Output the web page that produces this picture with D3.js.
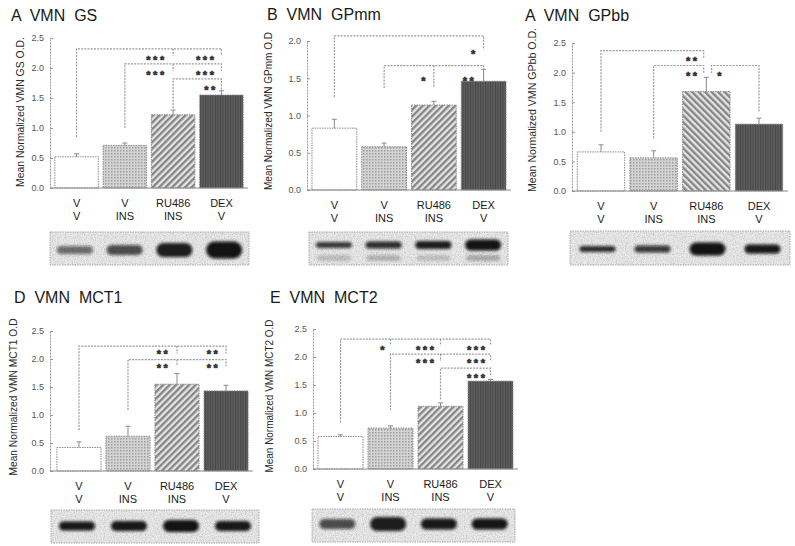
<!DOCTYPE html>
<html><head><meta charset="utf-8">
<script src="https://cdn.jsdelivr.net/npm/d3@7"></script>
<style>
body{margin:0;background:#fff}
svg{display:block}
text{font-family:"Liberation Sans",Arial,sans-serif}
.title{font-size:16px;fill:#1a1a1a;white-space:pre}
.ylab{font-size:10px;fill:#2a2a2a}
.cat{font-size:11px;fill:#1a1a1a}
.star{font-size:11px;font-weight:bold;fill:#333;stroke:#333;stroke-width:0.6px;letter-spacing:2.5px}
.tick text{font-size:9px;fill:#555}
</style>
</head><body><svg id="c" width="795" height="546"></svg>
<script>
// ---------- data ----------
const pretreatment = ["V", "V", "RU486", "DEX"];
const treatment = ["V", "INS", "INS", "V"];
const ticks25 = [0, 0.5, 1, 1.5, 2, 2.5];
const ticks20 = [0, 0.5, 1, 1.5, 2];
const tickLabels25 = ["0.0", "0.5", "1.0", "1.5", "2.0", "2.5"];
const tickLabels20 = ["0.0", "0.5", "1.0", "1.5", "2.0"];

const gsMean = [0.52, 0.71, 1.22, 1.55];
const gsErr = [0.05, 0.04, 0.08, 0.07];
const gpmmMean = [0.83, 0.58, 1.14, 1.46];
const gpmmErr = [0.12, 0.05, 0.05, 0.16];
const gpbbMean = [0.66, 0.56, 1.68, 1.13];
const gpbbErr = [0.12, 0.12, 0.24, 0.10];
const mct1Mean = [0.42, 0.62, 1.55, 1.43];
const mct1Err = [0.10, 0.18, 0.19, 0.10];
const mct2Mean = [0.58, 0.73, 1.12, 1.57];
const mct2Err = [0.03, 0.04, 0.06, 0.03];

// significance brackets (values in data units, positions in category index)
const gsSig = [
  {from: 0, to: 3, top: 2.32, legFrom: 0.85, legTo: 2.2, mids: [[2, 2.2]], stars: [[1.63, "***"], [2.66, "***"]], starAt: 2.17},
  {from: 1, to: 3, top: 2.07, legFrom: 1.0, legTo: 1.95, mids: [[2, 1.95]], stars: [[1.63, "***"], [2.66, "***"]], starAt: 1.93},
  {from: 2, to: 3, top: 1.82, legFrom: 1.33, legTo: 1.64, mids: [], stars: [[2.76, "**"]], starAt: 1.68}
];
const gpmmSig = [
  {from: 0, to: 3, top: 2.07, legFrom: 1.25, legTo: 1.88, mids: [], stars: [[2.79, "*"]], starAt: 1.86},
  {from: 1, to: 3, top: 1.67, legFrom: 1.37, legTo: 1.62, mids: [[2, 1.37]], stars: [[1.79, "*"], [2.69, "**"]], starAt: 1.5}
];
const gpbbSig = [
  {from: 0, to: 1.95, top: 2.37, legFrom: 1.0, legTo: 2.24, mids: [], stars: [[1.72, "**"]], starAt: 2.23},
  {from: 1, to: 1.95, top: 2.12, legFrom: 0.89, legTo: 1.98, mids: [], stars: [[1.72, "**"]], starAt: 1.99},
  {from: 2.1, to: 3, top: 2.12, legFrom: 1.99, legTo: 1.33, mids: [], stars: [[2.25, "*"]], starAt: 1.99}
];
const mct1Sig = [
  {from: 0, to: 3, top: 2.23, legFrom: 0.73, legTo: 2.1, mids: [[2, 2.1]], stars: [[1.70, "**"], [2.72, "**"]], starAt: 2.13},
  {from: 1, to: 3, top: 1.99, legFrom: 1.09, legTo: 1.87, mids: [[2, 1.87]], stars: [[1.70, "**"], [2.72, "**"]], starAt: 1.89}
];
const mct2Sig = [
  {from: 0, to: 3, top: 2.32, legFrom: 0.83, legTo: 2.2, mids: [[1, 2.2], [2, 2.2]], stars: [[0.84, "*"], [1.69, "***"], [2.71, "***"]], starAt: 2.17},
  {from: 1, to: 3, top: 2.05, legFrom: 1.05, legTo: 1.93, mids: [[2, 1.93]], stars: [[1.69, "***"], [2.71, "***"]], starAt: 1.94},
  {from: 2, to: 3, top: 1.80, legFrom: 1.24, legTo: 1.65, mids: [], stars: [[2.71, "***"]], starAt: 1.67}
];

// western blot band intensity (0-1) and thickness (px)
const gsBand = [0.55, 0.7, 0.92, 0.97];
const gsBandH = [8, 10, 14, 17];
const gpmmBand = [0.8, 0.85, 0.92, 0.97];
const gpmmBandH = [6, 7, 8, 11];
const gpmmGhost = [0.22, 0.28, 0.2, 0.32];
const gpbbBand = [0.85, 0.8, 0.97, 0.95];
const gpbbBandH = [6, 7, 13, 9];
const mct1Band = [0.95, 0.95, 0.97, 0.95];
const mct1BandH = [9, 10, 12, 10];
const mct2Band = [0.7, 0.92, 0.94, 0.96];
const mct2BandH = [10, 14, 11, 11];

// ---------- layout ----------
const panels = [
  {title: "A  VMN  GS", ylab: "Mean Normalized VMN GS O.D.", mean: gsMean, err: gsErr, sig: gsSig,
   ticks: ticks25, labels: tickLabels25, max: 2.5, band: gsBand, bandH: gsBandH, ghost: null,
   tx: 11, ty: 21, ax: 50, b0: 50, b1: 248, yT: 38, yB: 188, lx: 20, ly: 112, ll: 150,
   box: [50, 232, 249, 265], bandY: 18, hatch: "hatchR"},
  {title: "B  VMN  GPmm", ylab: "Mean Normalized VMN GPmm O.D", mean: gpmmMean, err: gpmmErr, sig: gpmmSig,
   ticks: ticks20, labels: tickLabels20, max: 2.0, band: gpmmBand, bandH: gpmmBandH, ghost: gpmmGhost,
   tx: 267, ty: 20, ax: 307, b0: 307, b1: 511, yT: 41, yB: 190, lx: 268, ly: 111, ll: 158,
   box: [309, 232, 508, 265], bandY: 13, hatch: "hatchR"},
  {title: "A  VMN  GPbb", ylab: "Mean Normalized VMN GPbb O.D.", mean: gpbbMean, err: gpbbErr, sig: gpbbSig,
   ticks: ticks25, labels: tickLabels25, max: 2.5, band: gpbbBand, bandH: gpbbBandH, ghost: null,
   tx: 525, ty: 21, ax: 572, b0: 572, b1: 788, yT: 43, yB: 191, lx: 532, ly: 110, ll: 164,
   box: [570, 231, 790, 265], bandY: 18, hatch: "hatchL"},
  {title: "D  VMN  MCT1", ylab: "Mean Normalized VMN MCT1 O.D", mean: mct1Mean, err: mct1Err, sig: mct1Sig,
   ticks: ticks25, labels: tickLabels25, max: 2.5, band: mct1Band, bandH: mct1BandH, ghost: null,
   tx: 14, ty: 303, ax: 50, b0: 52, b1: 253, yT: 331, yB: 471, lx: 13, ly: 397, ll: 157,
   box: [51, 510, 259, 543], bandY: 16, hatch: "hatchR"},
  {title: "E  VMN  MCT2", ylab: "Mean Normalized VMN MCT2 O.D", mean: mct2Mean, err: mct2Err, sig: mct2Sig,
   ticks: ticks25, labels: tickLabels25, max: 2.5, band: mct2Band, bandH: mct2BandH, ghost: null,
   tx: 270, ty: 303, ax: 313, b0: 313, b1: 518, yT: 329, yB: 469, lx: 269, ly: 396, ll: 153,
   box: [312, 509, 515, 542], bandY: 15, hatch: "hatchR"}
];

// ---------- defs ----------
const svg = d3.select("#c");
const defs = svg.append("defs");

const pDot = defs.append("pattern").attr("id", "dots").attr("width", 3).attr("height", 3).attr("patternUnits", "userSpaceOnUse");
pDot.append("rect").attr("width", 3).attr("height", 3).attr("fill", "#d4d4d4");
pDot.append("rect").attr("width", 1.5).attr("height", 1.5).attr("fill", "#9c9c9c");

["hatchR", "hatchL"].forEach((id, k) => {
  const p = defs.append("pattern").attr("id", id).attr("width", 4.6).attr("height", 4.6)
    .attr("patternUnits", "userSpaceOnUse").attr("patternTransform", `rotate(${k ? -45 : 45})`);
  p.append("rect").attr("width", 4.6).attr("height", 4.6).attr("fill", "#e4e4e4");
  p.append("rect").attr("width", 2.3).attr("height", 4.6).attr("fill", "#858585");
});

const pDark = defs.append("pattern").attr("id", "dark").attr("width", 2.5).attr("height", 3).attr("patternUnits", "userSpaceOnUse");
pDark.append("rect").attr("width", 2.5).attr("height", 3).attr("fill", "#5e5e5e");
pDark.append("rect").attr("width", 1).attr("height", 3).attr("fill", "#474747");

const fNoise = defs.append("filter").attr("id", "noise").attr("x", 0).attr("y", 0).attr("width", 1).attr("height", 1);
fNoise.append("feTurbulence").attr("type", "fractalNoise").attr("baseFrequency", 0.9).attr("numOctaves", 2).attr("seed", 4).attr("result", "t");
fNoise.append("feColorMatrix").attr("in", "t").attr("type", "matrix")
  .attr("values", "1.4 0 0 0 0  1.4 0 0 0 0  1.4 0 0 0 0  0 0 0 0 1");

const fBlur = defs.append("filter").attr("id", "blur").attr("x", "-30%").attr("y", "-80%").attr("width", "160%").attr("height", "260%");
fBlur.append("feGaussianBlur").attr("stdDeviation", 1.6);

const barFill = i => p => ["#ffffff", "url(#dots)", `url(#${p.hatch})`, "url(#dark)"][i];

// ---------- draw ----------
panels.forEach(p => {
  const g = svg.append("g");
  const y = d3.scaleLinear().domain([0, p.max]).range([p.yB, p.yT]);
  const x = d3.scaleBand().domain(d3.range(pretreatment.length)).range([p.b0, p.b1])
    .paddingInner(0.1).paddingOuter(0.1);
  const cx = i => x(0) + x.bandwidth() / 2 + i * x.step();

  g.append("text").attr("class", "title").attr("x", p.tx).attr("y", p.ty).text(p.title);

  g.append("text").attr("class", "ylab")
    .attr("transform", `translate(${p.lx + 3.5},${p.ly}) rotate(-90)`)
    .attr("text-anchor", "middle")
    .attr("textLength", p.ll).attr("lengthAdjust", "spacingAndGlyphs")
    .text(p.ylab);

  // bars
  g.selectAll("rect.bar").data(p.mean).join("rect").attr("class", "bar")
    .attr("x", (d, i) => x(i)).attr("y", d => y(d))
    .attr("width", x.bandwidth()).attr("height", d => y(0) - y(d))
    .attr("fill", (d, i) => barFill(i)(p))
    .attr("stroke", "#8a8a8a").attr("stroke-width", 1).attr("stroke-dasharray", "1.5,1");

  // error bars (upper only)
  const eb = g.selectAll("g.err").data(p.mean).join("g").attr("class", "err")
    .attr("stroke", "#8a8a8a").attr("stroke-width", 1);
  eb.append("line").attr("x1", (d, i) => cx(i)).attr("x2", (d, i) => cx(i))
    .attr("y1", d => y(d)).attr("y2", (d, i) => y(d + p.err[i]));
  eb.append("line").attr("x1", (d, i) => cx(i) - 2.5).attr("x2", (d, i) => cx(i) + 2.5)
    .attr("y1", (d, i) => y(d + p.err[i])).attr("y2", (d, i) => y(d + p.err[i]));

  // y axis
  const ax = g.append("g").attr("transform", `translate(${p.ax},0)`)
    .call(d3.axisLeft(y).tickValues(p.ticks).tickFormat((d, i) => p.labels[i])
      .tickSize(-3).tickSizeOuter(0).tickPadding(6));
  ax.select(".domain").attr("stroke", "#999").attr("stroke-dasharray", "2,1");
  ax.selectAll(".tick line").attr("stroke", "#999");
  ax.selectAll(".tick text").attr("font-family", null).attr("font-size", null);

  // x baseline
  g.append("line").attr("x1", p.ax).attr("x2", p.b1).attr("y1", y(0)).attr("y2", y(0))
    .attr("stroke", "#888").attr("stroke-width", 1);

  // category labels
  g.selectAll("text.c1").data(pretreatment).join("text").attr("class", "cat")
    .attr("x", (d, i) => cx(i)).attr("y", p.yB + 19).attr("text-anchor", "middle").text(d => d);
  g.selectAll("text.c2").data(treatment).join("text").attr("class", "cat")
    .attr("x", (d, i) => cx(i)).attr("y", p.yB + 32).attr("text-anchor", "middle").text(d => d);

  // significance brackets
  p.sig.forEach(b => {
    const path = d3.path();
    path.moveTo(cx(b.from), y(b.legFrom));
    path.lineTo(cx(b.from), y(b.top));
    path.lineTo(cx(b.to), y(b.top));
    path.lineTo(cx(b.to), y(b.legTo));
    b.mids.forEach(([i, v]) => { path.moveTo(cx(i), y(b.top)); path.lineTo(cx(i), y(v)); });
    g.append("path").attr("d", path.toString()).attr("fill", "none")
      .attr("stroke", "#9a9a9a").attr("stroke-width", 1.2).attr("stroke-dasharray", "2,1.2");
    b.stars.forEach(([i, s]) => {
      g.append("text").attr("class", "star").attr("x", cx(i) + 1.25).attr("y", y(b.starAt) + 6.4)
        .attr("text-anchor", "middle").text(s);
    });
  });

  // western blot image
  const [bx0, by0, bx1, by1] = p.box;
  g.append("rect").attr("x", bx0).attr("y", by0).attr("width", bx1 - bx0).attr("height", by1 - by0)
    .attr("fill", "#e6e6e6");
  g.append("rect").attr("x", bx0).attr("y", by0).attr("width", bx1 - bx0).attr("height", by1 - by0)
    .attr("filter", "url(#noise)").attr("opacity", 0.35);
  g.append("rect").attr("x", bx0).attr("y", by0).attr("width", bx1 - bx0).attr("height", by1 - by0)
    .attr("fill", "none").attr("stroke", "#aaa").attr("stroke-dasharray", "1.5,1");
  const lane = d3.scalePoint().domain(d3.range(pretreatment.length)).range([bx0, bx1]).padding(0.5);
  if (p.ghost) {
    g.selectAll("rect.ghost").data(p.ghost).join("rect").attr("class", "ghost")
      .attr("x", (d, i) => lane(i) - 17).attr("width", 34)
      .attr("y", by0 + p.bandY + 10).attr("height", 6).attr("rx", 3)
      .attr("fill", "#333").attr("opacity", d => d).attr("filter", "url(#blur)");
  }
  g.selectAll("rect.band").data(p.band).join("rect").attr("class", "band")
    .attr("x", (d, i) => lane(i) - 18).attr("width", 36)
    .attr("y", (d, i) => by0 + p.bandY - p.bandH[i] / 2)
    .attr("height", (d, i) => p.bandH[i])
    .attr("rx", (d, i) => p.bandH[i] / 2)
    .attr("fill", "#0a0a0a").attr("opacity", d => d).attr("filter", "url(#blur)");
});
</script>
</body></html>
